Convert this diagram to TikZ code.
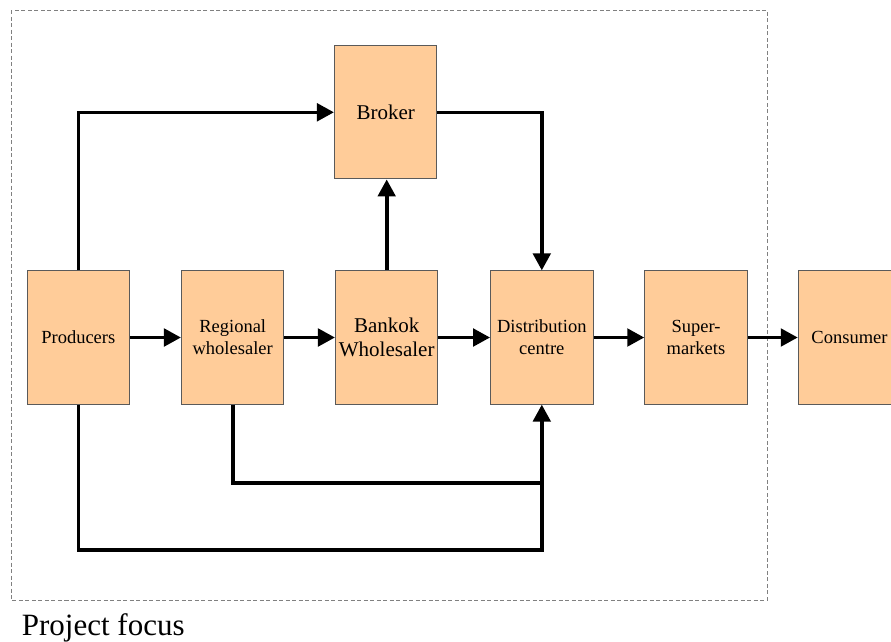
\documentclass[tikz,border=0pt]{standalone}
\usepackage{fontspec}
\setmainfont{Liberation Serif}
\usetikzlibrary{arrows.meta}
\definecolor{peach}{RGB}{255,204,153}
\definecolor{boxline}{RGB}{90,90,90}
\begin{document}
\begin{tikzpicture}[x=1pt,y=-1pt,
  box/.style={draw=boxline,line width=1pt,fill=peach,minimum width=102.5pt,minimum height=133.3pt,inner sep=0pt,align=center},
  smalltxt/.style={font=\fontsize{18.5}{21.7}\selectfont},
  bigtxt/.style={font=\fontsize{21}{24}\selectfont},
  flow/.style={line width=3.6pt,-{Triangle[length=17pt,width=17.5pt]}},
  plain/.style={line width=3.6pt}]
\useasboundingbox (0,0) rectangle (891,641);
\draw[gray,line width=1pt,dash pattern=on 4pt off 2.5pt] (11,10) rectangle (767,600);
\node[box,smalltxt] (prod) at (78.3,337.5) {Producers};
\node[box,smalltxt] (reg) at (232.7,337.5) {Regional\\wholesaler};
\node[box,bigtxt] (bank) at (386.7,337.5) {Bankok\\Wholesaler};
\node[box,smalltxt] (dist) at (541.8,337.5) {Distribution\\centre};
\node[box,smalltxt] (sup) at (696,337.5) {Super-\\markets};
\node[box,smalltxt] (cons) at (849.5,337.5) {Consumer};
\node[box,bigtxt] (brok) at (385.7,112.3) {Broker};
\node[anchor=base west,inner sep=0pt,font=\fontsize{31}{36}\selectfont] (pf) at (21.7,635.5) {Project focus};
\coordinate (tl) at (prod.north |- brok.west);
\coordinate (tr) at (dist.north |- brok.east);
\coordinate (b1) at (reg.south |- 0,483);
\coordinate (b2) at (prod.south |- 0,550);
\coordinate (d1) at (dist.south |- b1);
\coordinate (d2) at (dist.south |- b2);
\draw[flow] (prod.east) -- (reg.west);
\draw[flow] (reg.east) -- (bank.west);
\draw[flow] (bank.east) -- (dist.west);
\draw[flow] (dist.east) -- (sup.west);
\draw[flow] (sup.east) -- (cons.west);
\draw[flow] (bank.north) -- (bank.north |- brok.south);
\draw[flow] (prod.north) -- (tl) -- (brok.west);
\draw[flow] (brok.east) -- (tr) -- (dist.north);
\draw[plain] (reg.south) -- (b1) -- (d1);
\draw[flow] (prod.south) -- (b2) -- (d2) -- (dist.south);
\end{tikzpicture}
\end{document}
